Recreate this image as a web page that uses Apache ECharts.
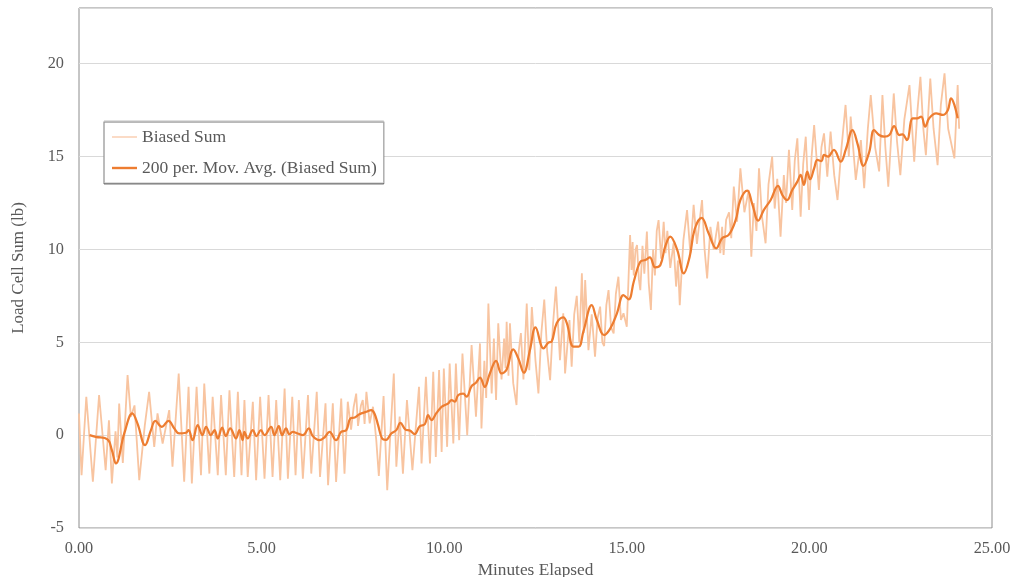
<!DOCTYPE html>
<html>
<head>
<meta charset="utf-8">
<script src="https://cdn.jsdelivr.net/npm/echarts@6/dist/echarts.min.js"></script>
<style>
html,body{margin:0;padding:0;background:#fff;}
#chart{width:1013px;height:577px;}
</style>
</head>
<body>
<div id="chart"></div>
<script>
// Raw signal: minutes elapsed and load (lb)
const rawMinutes = [
0.00,0.07,0.20,0.38,0.55,0.73,0.82,0.90,1.00,1.05,
1.10,1.20,1.33,1.42,1.52,1.65,1.80,1.92,2.06,2.15,
2.29,2.47,2.56,2.73,2.88,3.00,3.09,3.22,3.34,3.43,
3.57,3.66,3.80,3.89,4.02,4.12,4.25,4.35,4.45,4.53,
4.62,4.76,4.85,4.96,5.08,5.19,5.30,5.40,5.51,5.63,
5.72,5.84,5.93,6.02,6.13,6.27,6.36,6.51,6.60,6.75,
6.82,6.95,7.04,7.18,7.27,7.36,7.45,7.52,7.59,7.64,
7.72,7.77,7.82,7.87,7.96,8.05,8.14,8.21,8.34,8.44,
8.62,8.69,8.78,8.87,8.98,9.13,9.31,9.38,9.50,9.61,
9.70,9.77,9.86,9.93,9.99,10.08,10.15,10.25,10.32,10.41,
10.50,10.63,10.75,10.87,10.98,11.02,11.10,11.15,11.21,11.30,
11.36,11.42,11.48,11.57,11.64,11.68,11.71,11.76,11.80,11.89,
11.98,12.04,12.10,12.17,12.26,12.33,12.40,12.50,12.58,12.66,
12.74,12.82,12.90,12.98,13.06,13.17,13.26,13.31,13.43,13.49,
13.56,13.63,13.70,13.77,13.82,13.86,13.95,14.04,14.13,14.20,
14.27,14.33,14.38,14.44,14.50,14.57,14.64,14.70,14.77,14.84,
14.91,15.00,15.09,15.13,15.16,15.19,15.24,15.28,15.33,15.37,
15.43,15.48,15.55,15.60,15.66,15.72,15.77,15.82,15.87,15.94,
16.01,16.06,16.11,16.19,16.28,16.35,16.40,16.45,16.55,16.65,
16.74,16.83,16.92,17.06,17.13,17.20,17.29,17.38,17.50,17.56,
17.61,17.65,17.72,17.80,17.86,17.93,18.02,18.11,18.22,18.30,
18.34,18.41,18.48,18.55,18.62,18.70,18.80,18.88,18.98,19.05,
19.12,19.21,19.30,19.36,19.44,19.53,19.60,19.67,19.76,19.83,
19.90,19.99,20.06,20.13,20.26,20.33,20.40,20.49,20.58,20.68,
20.77,20.88,20.99,21.08,21.13,21.27,21.41,21.50,21.60,21.68,
21.80,21.91,22.00,22.08,22.16,22.31,22.40,22.49,22.60,22.74,
22.87,22.96,23.04,23.12,23.19,23.31,23.40,23.51,23.60,23.70,
23.80,23.97,24.06,24.10
];
const rawLoad = [
1.17,-2.16,2.07,-2.51,2.16,-1.89,0.8,-2.6,0.2,-1.2,
1.7,-1.5,3.23,0.99,1.6,-2.42,0.5,2.33,-0.63,1.17,
-0.45,1.35,-1.7,3.32,-2.51,2.6,-2.6,2.6,-2.16,2.78,
-2.07,2.07,-2.16,2.16,-2.16,2.42,-2.25,2.33,-2.16,1.89,
-2.25,1.80,-2.43,2.07,-2.34,2.16,-2.25,1.89,-2.43,2.51,
-2.34,2.07,-2.16,1.89,-2.34,2.16,-2.07,2.33,-2.25,1.71,
-2.70,1.71,-2.52,1.97,-2.07,1.80,0.3,1.5,2.24,0.5,
1.6,1.89,0.6,2.33,0.63,1.53,-0.27,-2.2,2.1,-2.96,
3.32,-1.7,1.0,-2.07,1.89,-1.89,2.6,-1.53,3.14,-1.53,
3.41,-1.17,3.5,-0.9,3.59,-0.63,3.86,-0.45,3.86,-0.27,
4.4,0.0,4.85,0.99,4.94,0.36,4.0,2.0,7.09,2.24,
5.2,1.89,6.02,3.0,5.2,3.6,6.1,3.2,6.02,2.8,
1.62,4.5,5.5,3.0,7.09,3.5,6.9,4.0,2.25,5.5,
7.3,4.5,2.96,6.0,8.0,4.04,6.56,3.32,6.2,3.68,
6.5,7.5,5.0,8.71,5.5,8.35,4.58,6.5,4.22,6.3,
6.92,5.0,4.8,7.0,7.81,5.8,5.48,7.6,8.53,6.2,
6.56,5.84,10.78,8.9,10.4,8.6,10.0,10.24,8.4,7.81,
10.2,8.7,10.96,8.2,6.74,10.0,8.6,11.0,11.58,9.5,
11.49,9.8,11.0,9.0,10.33,8.0,9.4,7.0,10.5,12.12,
9.8,12.4,10.3,12.66,10.0,8.44,11.22,9.97,11.5,9.8,
11.22,9.7,11.6,12.0,10.6,13.38,11.5,14.37,12.0,12.8,
13.2,9.61,12.5,11.0,14.37,11.8,10.33,13.5,15.0,12.2,
13.8,10.69,14.0,12.5,15.36,12.12,14.8,15.98,11.76,14.6,
16.07,12.12,15.0,16.7,13.2,15.5,16.25,13.92,16.34,14.0,
12.66,15.5,17.78,15.0,17.15,13.74,15.89,13.3,16.5,18.31,
15.5,14.2,18.31,15.5,13.38,18.4,15.8,14.0,17.0,18.85,
14.72,17.5,19.3,16.5,15.08,19.2,16.5,14.54,17.8,19.48,
16.5,14.9,18.85,16.5
];
// 200 period moving average
const avgMinutes = [
0.29,0.46,0.78,0.90,1.01,1.24,1.46,1.60,1.81,1.97,2.09,2.27,2.45,2.61,2.74,2.93,3.00,3.11,3.25,3.38,
3.48,3.61,3.71,3.80,3.92,4.02,4.14,4.30,4.39,4.48,4.53,4.62,4.76,4.86,4.98,5.08,5.26,5.35,5.47,5.56,
5.67,5.76,5.85,5.99,6.13,6.29,6.40,6.58,6.72,6.86,7.04,7.18,7.32,7.43,7.55,7.68,7.87,8.00,8.09,8.19,
8.30,8.41,8.55,8.69,8.80,8.94,9.06,9.19,9.33,9.47,9.56,9.65,9.79,9.93,10.02,10.11,10.20,10.29,10.38,10.52,
10.61,10.75,10.87,10.98,11.11,11.25,11.42,11.57,11.71,11.89,12.03,12.18,12.35,12.50,12.72,12.85,12.94,13.08,13.26,13.36,
13.54,13.68,13.81,14.04,14.18,14.38,14.55,14.73,14.91,15.05,15.19,15.37,15.51,15.63,15.78,15.92,16.05,16.19,16.38,16.56,
16.72,16.86,17.05,17.24,17.45,17.61,17.79,17.98,18.11,18.30,18.43,18.60,18.75,18.94,19.14,19.26,19.39,19.53,19.67,19.76,
19.85,19.94,20.02,20.13,20.22,20.33,20.40,20.51,20.67,20.86,21.00,21.18,21.32,21.48,21.64,21.77,21.91,22.05,22.19,22.32,
22.46,22.55,22.67,22.83,22.95,23.06,23.17,23.28,23.47,23.65,23.79,23.88,23.97,24.06
];
const avgLoad = [
0.0,-0.09,-0.23,-0.81,-1.52,0.09,1.17,0.63,-0.54,0.27,0.77,0.45,0.77,0.36,0.09,0.13,0.27,-0.27,0.54,0.0,
0.45,0.0,0.27,-0.18,0.41,-0.05,0.36,-0.18,0.27,-0.27,0.18,-0.18,0.27,-0.05,0.27,0.0,0.45,0.0,0.48,0.0,
0.36,0.05,0.18,0.09,0.0,0.36,-0.05,-0.27,-0.13,0.18,-0.27,0.18,0.27,0.9,0.95,1.13,1.26,1.35,1.17,0.54,
-0.18,-0.25,0.09,0.27,0.66,0.3,0.25,0.05,0.48,0.59,1.08,0.81,1.2,1.53,1.62,1.71,1.89,1.8,2.15,2.24,
2.07,2.64,2.82,3.1,2.6,3.32,4.0,3.32,3.54,4.62,4.13,3.36,4.6,5.8,4.67,4.98,5.03,6.02,6.34,6.02,
4.76,4.76,5.57,7.0,6.2,5.39,5.75,6.56,7.54,7.31,8.26,9.34,9.43,9.57,9.03,9.16,10.15,10.69,9.97,8.71,
9.6,11.1,11.7,10.87,10.06,10.6,10.78,11.58,12.66,13.16,12.48,11.55,12.12,12.66,13.42,12.93,12.66,13.2,13.65,14.01,
13.47,14.19,13.78,14.37,14.82,14.76,15.09,15.0,15.36,14.73,15.4,16.43,15.67,14.5,15.26,16.43,16.16,16.07,16.16,16.64,
16.16,16.2,15.89,17.06,17.06,17.15,16.61,17.06,17.33,17.24,17.5,18.13,17.78,17.06
];
const xTicks = [0, 5, 10, 15, 20, 25];
const yTicks = [-5, 0, 5, 10, 15, 20];

const rawData = rawMinutes.map((m, i) => [m, rawLoad[i]]);
const avgData = avgMinutes.map((m, i) => [m, avgLoad[i]]);

const FONT = 'Liberation Serif';
const TXT = '#595959';
const RAW = '#f8c4a0';
const AVG = '#ed7d31';
const chart = echarts.init(document.getElementById('chart'));
chart.setOption({
  animation: false,
  backgroundColor: '#ffffff',
  grid: {left: 79, right: 21, top: 8, bottom: 49, outerBoundsMode: 'none', containLabel: false,
         show: true, borderColor: '#8c8c8c', borderWidth: 1, backgroundColor: 'transparent'},
  legend: {
    orient: 'vertical', left: 104, top: 121,
    backgroundColor: '#ffffff', borderColor: '#bfbfbf', borderWidth: 1,
    shadowColor: 'rgba(0,0,0,0.55)', shadowOffsetY: 1, shadowBlur: 0,
    padding: [7, 7, 6, 8], itemWidth: 25, itemHeight: 14, itemGap: 13,
    textStyle: {fontFamily: FONT, fontSize: 17.5, color: TXT},
    data: [
      {name: 'Biased Sum', icon: 'path://M0,0H25V1.2H0Z', itemStyle: {color: RAW}},
      {name: '200 per. Mov. Avg. (Biased Sum)', icon: 'path://M0,0H25V2.4H0Z', itemStyle: {color: AVG}}
    ]
  },
  xAxis: {
    type: 'value', min: xTicks[0], max: xTicks[xTicks.length - 1], interval: 5,
    name: 'Minutes Elapsed', nameLocation: 'middle', nameGap: 30,
    nameTextStyle: {fontFamily: FONT, fontSize: 17.3, color: TXT},
    axisLine: {show: false}, axisTick: {show: false},
    axisLabel: {fontFamily: FONT, fontSize: 16.3, color: TXT, margin: 13, formatter: v => v.toFixed(2)},
    splitLine: {show: false}
  },
  yAxis: {
    type: 'value', min: yTicks[0], max: 23, interval: 5,
    name: 'Load Cell Sum (lb)', nameLocation: 'middle', nameGap: 52,
    nameTextStyle: {fontFamily: FONT, fontSize: 17, color: TXT},
    axisLine: {show: false}, axisTick: {show: false},
    axisLabel: {fontFamily: FONT, fontSize: 16.3, color: TXT, margin: 15, showMaxLabel: false},
    splitLine: {show: true, lineStyle: {color: '#d9d9d9', width: 1}}
  },
  series: [
    {name: 'Biased Sum', type: 'line', data: rawData, symbol: 'none',
     lineStyle: {color: RAW, width: 1.8}, itemStyle: {color: RAW}, z: 2},
    {name: '200 per. Mov. Avg. (Biased Sum)', type: 'line', data: avgData, symbol: 'none', smooth: 0.4,
     lineStyle: {color: AVG, width: 2.25}, itemStyle: {color: AVG}, z: 3}
  ]
});
</script>
</body>
</html>
